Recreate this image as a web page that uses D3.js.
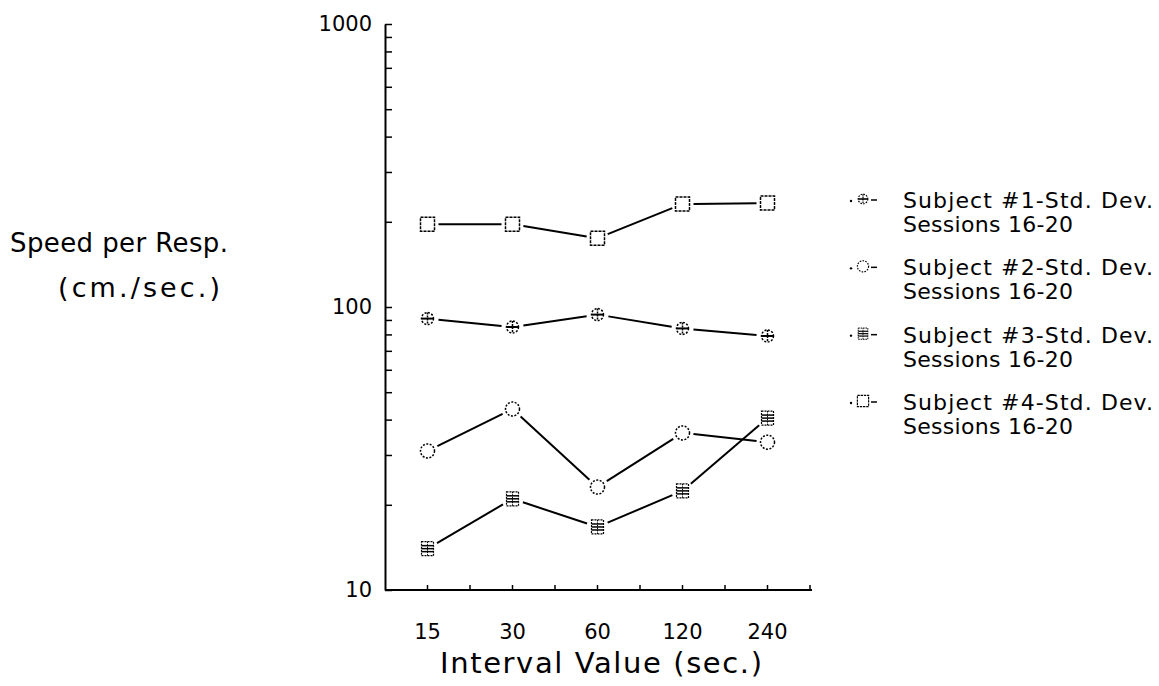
<!DOCTYPE html>
<html>
<head>
<meta charset="utf-8">
<script src="https://cdn.jsdelivr.net/npm/d3@7"></script>
<style>
  body { margin: 0; background: #fff; }
  text { font-family: "DejaVu Sans", sans-serif; fill: #000; }
</style>
</head>
<body>
<div id="chart"></div>
<script>
const categories = ["15", "30", "60", "120", "240"];
const subject1 = [91, 85, 94, 84, 79];
const subject2 = [31, 43.6, 23.1, 35.9, 33.3];
const subject3 = [14, 21, 16.7, 22.4, 40.5];
const subject4 = [196, 196, 175, 231, 233];
const yLabels = [10, 100, 1000];
const seriesNames = ["Subject #1-Std. Dev.", "Subject #2-Std. Dev.", "Subject #3-Std. Dev.", "Subject #4-Std. Dev."];
const sessionsLabel = "Sessions 16-20";

const width = 1159, height = 686;

const svg = d3.select("#chart").append("svg")
    .attr("width", width)
    .attr("height", height);

const x = d3.scalePoint()
    .domain(categories)
    .range([385, 810])
    .padding(0.5);

const y = d3.scaleLog()
    .domain([10, 1000])
    .range([590, 24]);

// y axis, ticks pointing inward
const yAxis = svg.append("g")
    .attr("transform", "translate(385,0)")
    .call(d3.axisLeft(y)
        .tickValues(y.ticks())
        .tickSizeInner(-7)
        .tickSizeOuter(0)
        .tickPadding(13)
        .tickFormat(d => yLabels.includes(d) ? d : ""));
yAxis.select(".domain").attr("stroke-width", 2);
yAxis.selectAll(".tick line").attr("stroke-width", 1.5);
yAxis.selectAll("text").style("font-size", "21px").attr("fill", "#000");

// x axis, ticks pointing up, with extra ticks between categories
const half = x.step() / 2;
const xAxis = svg.append("g")
    .attr("transform", "translate(0,590)");
xAxis.append("line")
    .attr("x1", 385).attr("x2", 812)
    .attr("stroke", "#000").attr("stroke-width", 2);
xAxis.selectAll(".xtick")
    .data(categories.flatMap(c => [x(c), x(c) + half]))
    .join("line")
    .attr("x1", d => d).attr("x2", d => d)
    .attr("y1", 0).attr("y2", -5)
    .attr("stroke", "#000").attr("stroke-width", 1.5);
xAxis.selectAll(".xlabel")
    .data(categories)
    .join("text")
    .attr("x", d => x(d))
    .attr("y", 49)
    .attr("text-anchor", "middle")
    .style("font-size", "21px")
    .text(d => d);

svg.append("text")
    .attr("x", 440).attr("y", 673)
    .attr("textLength", 322).attr("lengthAdjust", "spacing")
    .style("font-size", "29px")
    .text("Interval Value (sec.)");

svg.append("text")
    .attr("x", 10).attr("y", 252)
    .attr("textLength", 218).attr("lengthAdjust", "spacing")
    .style("font-size", "26px")
    .text("Speed per Resp.");
svg.append("text")
    .attr("x", 58).attr("y", 297)
    .attr("textLength", 162).attr("lengthAdjust", "spacing")
    .style("font-size", "27px")
    .text("(cm./sec.)");

// marker drawers
function markPlus(g) {
    g.append("circle").attr("r", 6).attr("fill", "#fff")
        .attr("stroke", "#000").attr("stroke-width", 1.5).attr("stroke-dasharray", "2,1.5");
    g.append("line").attr("x1", -6).attr("x2", 6).attr("stroke", "#000").attr("stroke-width", 2);
    g.append("line").attr("y1", -6).attr("y2", 6).attr("stroke", "#000").attr("stroke-width", 1.5).attr("stroke-dasharray", "2,1");
}
function markCircle(g) {
    g.append("circle").attr("r", 7).attr("fill", "#fff")
        .attr("stroke", "#000").attr("stroke-width", 1.5).attr("stroke-dasharray", "2,1.5");
}
function markHatch(g) {
    g.append("rect").attr("x", -6).attr("y", -7).attr("width", 12).attr("height", 14)
        .attr("fill", "#fff").attr("stroke", "#000").attr("stroke-width", 1.2).attr("stroke-dasharray", "2,1");
    [-3, 0, 3].forEach(dy => g.append("line").attr("x1", -6).attr("x2", 6)
        .attr("y1", dy).attr("y2", dy).attr("stroke", "#000").attr("stroke-width", 1.5));
    g.append("line").attr("y1", -7).attr("y2", 7).attr("stroke", "#000").attr("stroke-width", 1).attr("stroke-dasharray", "1.5,1");
}
function markSquare(g) {
    g.append("rect").attr("x", -7).attr("y", -7).attr("width", 14).attr("height", 14)
        .attr("fill", "#fff").attr("stroke", "#000").attr("stroke-width", 1.5).attr("stroke-dasharray", "3,1");
}

const series = [
    { values: subject1, mark: markPlus },
    { values: subject2, mark: markCircle },
    { values: subject3, mark: markHatch },
    { values: subject4, mark: markSquare }
];

const gap = 11;
series.forEach(s => {
    const pts = categories.map((c, i) => [x(c), y(s.values[i])]);
    const segs = d3.pairs(pts).map(([a, b]) => {
        const dx = b[0] - a[0], dy = b[1] - a[1];
        const len = Math.hypot(dx, dy);
        const ux = dx / len, uy = dy / len;
        return [a[0] + ux * gap, a[1] + uy * gap, b[0] - ux * gap, b[1] - uy * gap];
    });
    svg.append("g").selectAll("line")
        .data(segs)
        .join("line")
        .attr("x1", d => d[0]).attr("y1", d => d[1])
        .attr("x2", d => d[2]).attr("y2", d => d[3])
        .attr("stroke", "#000").attr("stroke-width", 2);
    pts.forEach(p => s.mark(svg.append("g").attr("transform", `translate(${p[0]},${p[1]})`)));
});

// legend
const legend = svg.append("g");
const rowY = d3.scaleLinear().domain([0, 3]).range([200, 402]);
series.forEach((s, i) => {
    const g = legend.append("g").attr("transform", `translate(0,${rowY(i)})`);
    g.append("circle").attr("cx", 851).attr("cy", 1).attr("r", 1.2).attr("fill", "#000");
    g.append("line").attr("x1", 871).attr("x2", 877).attr("y1", 0).attr("y2", 0)
        .attr("stroke", "#000").attr("stroke-width", 1.5);
    const m = g.append("g").attr("transform", "translate(863,-1) scale(0.8)");
    s.mark(m);
    g.append("text").attr("x", 903).attr("y", 8)
        .attr("textLength", 250).attr("lengthAdjust", "spacing")
        .style("font-size", "22px").text(seriesNames[i]);
    g.append("text").attr("x", 903).attr("y", 32)
        .attr("textLength", 170).attr("lengthAdjust", "spacing")
        .style("font-size", "22px").text(sessionsLabel);
});
</script>
</body>
</html>
